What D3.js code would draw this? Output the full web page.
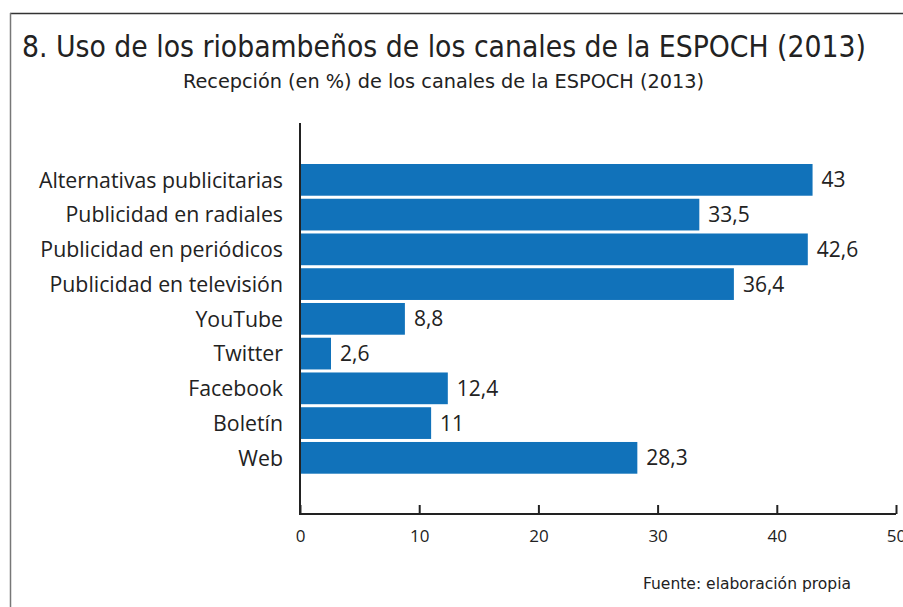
<!DOCTYPE html>
<html>
<head>
<meta charset="utf-8">
<script src="https://cdn.jsdelivr.net/npm/d3@7"></script>
<style>
  html, body { margin: 0; padding: 0; background: #fff; }
  svg { display: block; }
</style>
</head>
<body>
<svg id="chart" width="903" height="607"></svg>
<script>
const categories = ["Alternativas publicitarias","Publicidad en radiales","Publicidad en periódicos","Publicidad en televisión","YouTube","Twitter","Facebook","Boletín","Web"];
const values = [43, 33.5, 42.6, 36.4, 8.8, 2.6, 12.4, 11, 28.3];
const valueLabels = ["43","33,5","42,6","36,4","8,8","2,6","12,4","11","28,3"];
const tickValues = [0, 10, 20, 30, 40, 50];
const titleText = "8. Uso de los riobambeños de los canales de la ESPOCH (2013)";
const subtitleText = "Recepción (en %) de los canales de la ESPOCH (2013)";
const sourceText = "Fuente: elaboración propia";

const svg = d3.select("#chart");
const condensed = "'DejaVu Sans Condensed', 'Liberation Sans Narrow', 'Open Sans', sans-serif";
const labelFont = "'Open Sans', 'Noto Sans', sans-serif";

// frame
svg.append("line").attr("x1", 10).attr("x2", 903).attr("y1", 13.5).attr("y2", 13.5)
  .attr("stroke", "#333").attr("stroke-width", 1.5);
svg.append("line").attr("x1", 10.5).attr("x2", 10.5).attr("y1", 13).attr("y2", 607)
  .attr("stroke", "#777").attr("stroke-width", 1.5);

// titles
svg.append("text").attr("x", 22).attr("y", 57).text(titleText)
  .attr("font-family", condensed).attr("font-size", 31).attr("fill", "#222")
  .attr("textLength", 844).attr("lengthAdjust", "spacingAndGlyphs");
svg.append("text").attr("x", 183).attr("y", 88).text(subtitleText)
  .attr("font-family", condensed).attr("font-size", 20).attr("fill", "#222")
  .attr("textLength", 521).attr("lengthAdjust", "spacingAndGlyphs");

const x = d3.scaleLinear().domain([0, 50]).range([300, 896]);
const y = d3.scaleBand().domain(categories).range([164, 473.7]).paddingInner(0.087).paddingOuter(0);

// bars
svg.append("g").selectAll("rect").data(categories).join("rect")
  .attr("x", x(0))
  .attr("y", d => y(d))
  .attr("width", (d, i) => x(values[i]) - x(0))
  .attr("height", y.bandwidth())
  .attr("fill", "#1172ba");

// value labels
svg.append("g").selectAll("text").data(categories).join("text")
  .attr("x", (d, i) => x(values[i]) + 9)
  .attr("y", d => y(d) + y.bandwidth() / 2)
  .attr("dy", "0.36em")
  .attr("font-family", labelFont).attr("font-size", 21).attr("fill", "#222")
  .text((d, i) => valueLabels[i]);

// category labels
svg.append("g").selectAll("text").data(categories).join("text")
  .attr("x", 283)
  .attr("y", d => y(d) + y.bandwidth() / 2)
  .attr("dy", "0.36em")
  .attr("text-anchor", "end")
  .attr("font-family", labelFont).attr("font-size", 21.3).attr("fill", "#222")
  .text(d => d);

// y axis line
svg.append("line").attr("x1", 300).attr("x2", 300).attr("y1", 123).attr("y2", 515)
  .attr("stroke", "#222").attr("stroke-width", 2);

// x axis
const xAxis = d3.axisBottom(x).tickValues(tickValues).tickSize(-9).tickPadding(16).tickFormat(d3.format("d"));
const gx = svg.append("g").attr("transform", "translate(0,514)").call(xAxis);
gx.select(".domain").attr("stroke", "#222").attr("stroke-width", 2).attr("d", `M${x(0)},0H${x(50)}`);
gx.selectAll(".tick line").attr("stroke", "#222").attr("stroke-width", 2);
gx.selectAll(".tick text").attr("font-family", labelFont).attr("font-size", 17).attr("fill", "#222");

// source
svg.append("text").attr("x", 643).attr("y", 589).text(sourceText)
  .attr("font-family", condensed).attr("font-size", 15).attr("fill", "#222")
  .attr("textLength", 208).attr("lengthAdjust", "spacingAndGlyphs");
</script>
</body>
</html>
